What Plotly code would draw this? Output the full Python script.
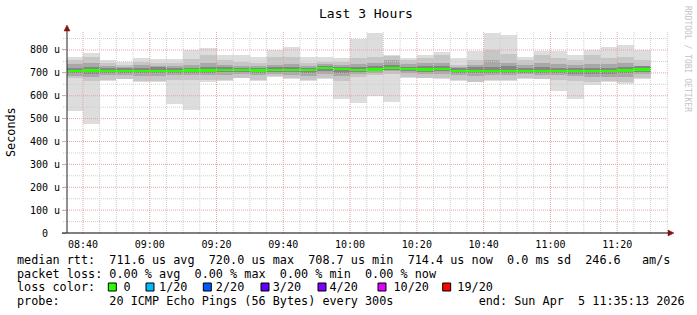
import plotly.graph_objects as go
import pandas as pd

# ---------------- data (microseconds) ----------------
bar_start = pd.date_range("2026-04-05 08:35:00", periods=35, freq="5min")
range_start = pd.Timestamp("2026-04-05 08:35:13")
range_end = pd.Timestamp("2026-04-05 11:35:13")

rtt_max = [768, 788, 757, 748, 767, 759, 760, 800, 810, 778, 778, 770, 800, 812, 768, 771, 764,
           846, 875, 778, 764, 778, 793, 764, 797, 875, 864, 771, 797, 797, 778, 800, 814, 822, 800]
rtt_min = [532, 478, 665, 672, 658, 658, 565, 536, 658, 665, 677, 665, 684, 674, 665, 674, 587,
           568, 597, 571, 677, 677, 674, 665, 658, 665, 665, 674, 674, 619, 587, 649, 658, 652, 674]
rtt_p90 = [756, 768, 745, 735, 749, 742, 742, 759, 778, 756, 749, 742, 771, 768, 745, 749, 749,
           764, 768, 774, 756, 764, 778, 735, 756, 800, 782, 756, 778, 764, 756, 778, 764, 771, 756]
rtt_p10 = [676, 666, 668, 672, 666, 665, 668, 670, 668, 670, 677, 668, 686, 678, 668, 678, 665,
           684, 690, 695, 684, 678, 678, 668, 662, 670, 670, 678, 672, 668, 665, 660, 665, 658, 678]
rtt_p75 = [739, 745, 730, 726, 735, 730, 732, 735, 742, 735, 732, 730, 735, 738, 730, 738, 735,
           738, 745, 756, 738, 742, 745, 725, 735, 756, 742, 735, 745, 738, 735, 740, 738, 742, 730]
rtt_p25 = [687, 684, 690, 690, 688, 688, 690, 690, 690, 692, 695, 690, 695, 692, 688, 695, 685,
           695, 700, 708, 700, 695, 697, 690, 688, 690, 690, 695, 692, 690, 686, 684, 684, 683, 695]
rtt_p60 = [722, 725, 720, 720, 722, 724, 720, 722, 726, 727, 722, 720, 725, 726, 722, 732, 726,
           726, 730, 735, 726, 728, 728, 720, 724, 726, 728, 722, 724, 722, 722, 722, 722, 725, 728]
rtt_p40 = [698, 697, 700, 700, 698, 698, 699, 700, 700, 703, 703, 700, 702, 702, 700, 708, 700,
           702, 706, 712, 707, 704, 706, 700, 698, 700, 700, 700, 700, 699, 697, 696, 697, 698, 704]
rtt_median = [709, 710, 709, 709, 709, 709, 709, 710, 710, 711, 711, 710, 713, 714, 712, 722, 716,
              711, 715, 721, 717, 715, 717, 709, 709, 709, 709, 709, 709, 709, 709, 709, 709, 710, 715]

y_tick_vals = [0, 100, 200, 300, 400, 500, 600, 700, 800]
y_tick_text = ["0  ", "100 u", "200 u", "300 u", "400 u", "500 u", "600 u", "700 u", "800 u"]

title_text = "Last 3 Hours"
y_title = "Seconds"
credit_text = "RRDTOOL / TOBI OETIKER"
legend_lines = [
    "median rtt:  711.6 us avg  720.0 us max  708.7 us min  714.4 us now  0.0 ms sd  246.6   am/s",
    "packet loss: 0.00 % avg  0.00 % max  0.00 % min  0.00 % now",
    "loss color:    0    1/20    2/20    3/20    4/20     10/20    19/20",
    "probe:       20 ICMP Echo Pings (56 Bytes) every 300s            end: Sun Apr  5 11:35:13 2026",
]
loss_colors = ["#26ff00", "#00b8ff", "#0059ff", "#5e00ff", "#7e00ff", "#dd00ff", "#ff0000"]

# ---------------- styling / geometry ----------------
W, H = 697, 315
ML, MR, MT, MB = 67, 29, 31, 82
PW, PH = W - ML - MR, H - MT - MB
YMAX = 883
MEDIAN_HALF = 5.0
MONO = "DejaVu Sans Mono"


def px(x):
    return (x - ML) / PW


def py(y):
    return (H - MB - y) / PH


step_ms = 300000
x_center = bar_start + pd.Timedelta(seconds=150)

fig = go.Figure()


def smoke(lo, hi, color):
    fig.add_trace(go.Bar(
        x=x_center, base=lo, y=[h - l for h, l in zip(hi, lo)],
        width=[step_ms] * len(lo), marker=dict(color=color, line=dict(width=0)),
        hoverinfo="skip", showlegend=False))


smoke(rtt_min, rtt_max, "#dddddd")
smoke(rtt_p10, rtt_p90, "#c6c6c6")
smoke(rtt_p25, rtt_p75, "#a8a8a8")
smoke(rtt_p40, rtt_p60, "#858585")
fig.add_trace(go.Bar(
    x=x_center, base=[m - MEDIAN_HALF for m in rtt_median], y=[2 * MEDIAN_HALF] * len(rtt_median),
    width=[step_ms] * len(rtt_median), marker=dict(color=loss_colors[0], line=dict(width=0)),
    hoverinfo="skip", showlegend=False))

shapes = []
# horizontal grid
for v in range(50, 900, 50):
    major = v % 100 == 0
    shapes.append(dict(type="line", xref="paper", yref="y", x0=px(63), x1=1, y0=v, y1=v,
                       line=dict(color="#e2a6a6" if major else "#cfcfcf", width=1, dash="1px,1px"),
                       layer="above"))
# vertical grid
t = pd.Timestamp("2026-04-05 08:40:00")
while t < range_end:
    major = t.minute % 20 == 0
    shapes.append(dict(type="line", xref="x", yref="paper", x0=t, x1=t, y0=0, y1=1,
                       line=dict(color="#e2a6a6" if major else "#cfcfcf", width=1, dash="1px,1px"),
                       layer="above"))
    t += pd.Timedelta(minutes=5)
# axes
shapes.append(dict(type="line", xref="paper", yref="paper", x0=px(62), x1=px(669), y0=0, y1=0,
                   line=dict(color="#000000", width=1), layer="above"))
shapes.append(dict(type="line", xref="paper", yref="paper", x0=0, x1=0, y0=0, y1=py(29),
                   line=dict(color="#222222", width=1), layer="above"))
shapes.append(dict(type="path", xref="paper", yref="paper",
                   path=f"M {px(64)},{py(31)} L {px(70)},{py(31)} L {px(67)},{py(25)} Z",
                   fillcolor="#7f1414", line=dict(color="#7f1414", width=0.5), layer="above"))
shapes.append(dict(type="path", xref="paper", yref="paper",
                   path=f"M {px(668)},{py(230)} L {px(668)},{py(236)} L {px(674)},{py(233)} Z",
                   fillcolor="#7f1414", line=dict(color="#7f1414", width=0.5), layer="above"))
# loss colour boxes
box_left = [108.3, 146, 203.3, 261, 318, 378, 442.7]
for bx, c in zip(box_left, loss_colors):
    shapes.append(dict(type="rect", xref="paper", yref="paper", x0=px(bx), x1=px(bx + 8),
                       y0=py(291), y1=py(283), fillcolor=c, line=dict(color="#000000", width=1),
                       layer="above"))

annotations = [
    dict(text=title_text, x=px(366), y=py(14), xref="paper", yref="paper", showarrow=False,
         xanchor="center", yanchor="middle", font=dict(family=MONO, size=13, color="#000")),
    dict(text=y_title, x=px(11), y=py(132), xref="paper", yref="paper", showarrow=False,
         textangle=-90, xanchor="center", yanchor="middle",
         font=dict(family=MONO, size=11.8, color="#000")),
    dict(text=credit_text, x=px(688), y=py(59), xref="paper", yref="paper", showarrow=False,
         textangle=90, xanchor="center", yanchor="middle",
         font=dict(family=MONO, size=8, color="#c4c4c4")),
]
for i, line in enumerate(legend_lines):
    annotations.append(dict(text=line.replace(" ", "\u00a0"), x=px(15.5), y=py(260 + i * 13.6),
                            xref="paper", yref="paper", showarrow=False, xanchor="left",
                            yanchor="middle", borderpad=0,
                            font=dict(family=MONO, size=11.8, color="#000")))

fig.update_layout(
    width=W, height=H, margin=dict(l=ML, r=MR, t=MT, b=MB),
    paper_bgcolor="#ffffff", plot_bgcolor="#ffffff",
    barmode="overlay", bargap=0, showlegend=False,
    shapes=shapes, annotations=annotations,
    xaxis=dict(type="date", range=[range_start, range_end], showgrid=False, zeroline=False,
               showline=False, tickformat="%H:%M", dtick=1200000,
               tick0="2026-04-05 08:40:00", ticks="outside", ticklen=2, tickcolor="rgba(0,0,0,0)",
               tickfont=dict(family=MONO, size=10, color="#000")),
    yaxis=dict(range=[0, YMAX], showgrid=False, zeroline=False, showline=False,
               tickvals=y_tick_vals, ticktext=[s.replace(" ", "\u00a0") for s in y_tick_text],
               ticks="outside", ticklen=4, tickcolor="#e2a6a6",
               tickfont=dict(family=MONO, size=10, color="#000")),
)

fig.write_html("out.html")
